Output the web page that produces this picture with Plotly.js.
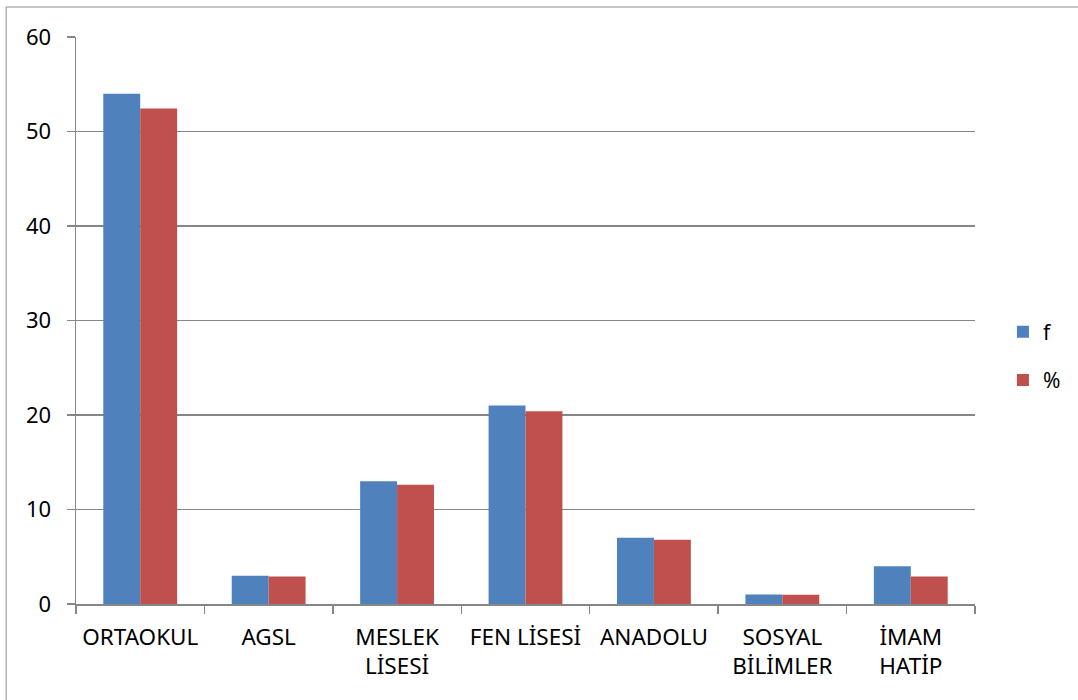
<!DOCTYPE html>
<html>
<head>
<meta charset="utf-8">
<script src="https://cdn.plot.ly/plotly-3.0.1.min.js"></script>
<style>html,body{margin:0;padding:0;background:#fff;}#chart{width:1078px;height:700px;}</style>
</head>
<body>
<div id="chart"></div>
<script>
const categories = ["ORTAOKUL", "AGSL", "MESLEK<br>LİSESİ", "FEN LİSESİ", "ANADOLU", "SOSYAL<br>BİLİMLER", "İMAM<br>HATİP"];
const fValues = [54, 3, 13, 21, 7, 1, 4];
const pctValues = [52.43, 2.91, 12.62, 20.39, 6.80, 0.97, 2.91];
const yTicks = [0, 10, 20, 30, 40, 50, 60];

const W = 1078, H = 700, L = 76, R = 101, T = 37, B = 96;
const pw = W - L - R, ph = H - T - B;
const px = v => (v - L) / pw;
const py = v => (H - B - v) / ph;

const fam = "Noto Sans, Open Sans, sans-serif";
const tickFont = {family: fam, size: 22, color: "#000"};
const xTickFont = {family: fam, size: 22.5, color: "#000"};

const traces = [
  {type: "bar", name: "f", x: categories, y: fValues, marker: {color: "#4F81BD"}, legendgroup: "a"},
  {type: "bar", name: "%", x: categories, y: pctValues, marker: {color: "#C0504D"}, legendgroup: "b"}
];

const layout = {
  width: W, height: H,
  margin: {l: L, r: R, t: T, b: B, pad: 0},
  paper_bgcolor: "#fff", plot_bgcolor: "#fff",
  font: tickFont,
  barmode: "group", bargap: 0.425, bargroupgap: 0,
  showlegend: true,
  legend: {x: px(1005), y: py(356), xanchor: "left", yanchor: "middle",
           font: {family: fam, size: 21, color: "#000"}, tracegroupgap: 18,
           bgcolor: "rgba(0,0,0,0)", itemwidth: 30},
  xaxis: {
    type: "category", showline: true, linecolor: "#868686", linewidth: 1.5,
    ticks: "outside", tickson: "boundaries", ticklen: 8, tickcolor: "#868686", tickwidth: 1.5,
    showgrid: false, tickfont: xTickFont, tickangle: 0, ticklabelstandoff: 12,
    automargin: false
  },
  yaxis: {
    range: [0, 60], tickvals: yTicks, ticktext: yTicks.map(String),
    showline: true, linecolor: "#868686", linewidth: 1.5,
    ticks: "outside", ticklen: 8, tickcolor: "#868686", tickwidth: 1.5,
    showgrid: true, gridcolor: "#868686", gridwidth: 1.2, zeroline: false,
    tickfont: tickFont, ticklabelstandoff: 11,
    automargin: false
  },
  shapes: [
    {type: "rect", xref: "paper", yref: "paper", x0: px(6), x1: px(1095), y0: py(715), y1: py(7),
     line: {color: "#8c8c8c", width: 1}, fillcolor: "rgba(0,0,0,0)", layer: "below"}
  ]
};

Plotly.newPlot("chart", traces, layout, {displayModeBar: false, staticPlot: true});
</script>
</body>
</html>
